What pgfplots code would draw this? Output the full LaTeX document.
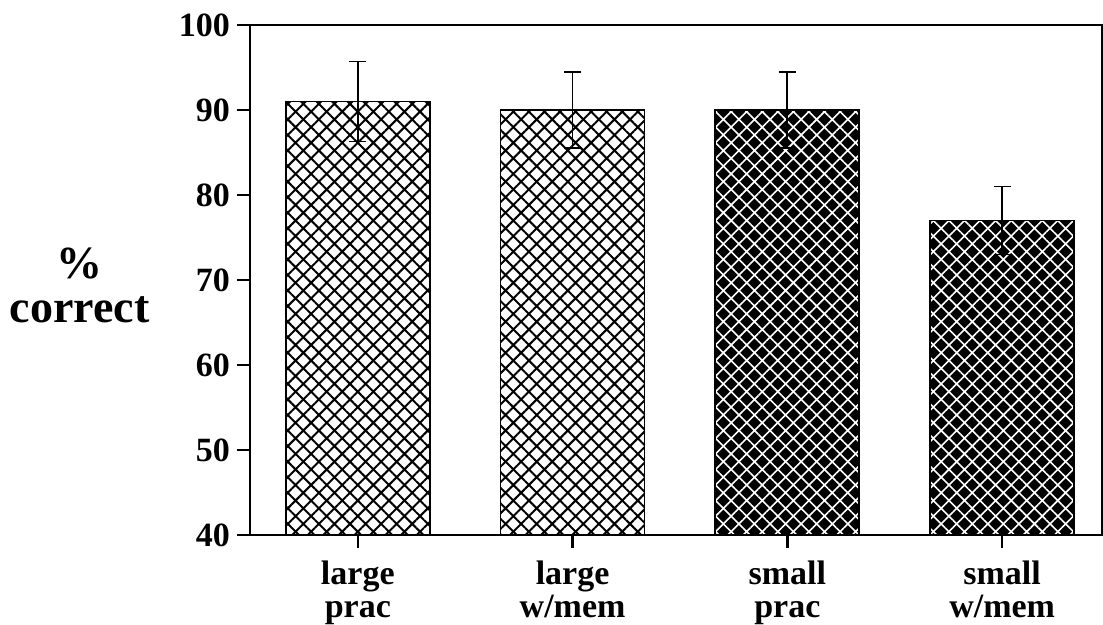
\documentclass[border=0pt]{standalone}
\usepackage{fontspec}
\setmainfont{Liberation Serif}
\usepackage{pgfplots}
\pgfplotsset{compat=1.18}
\usetikzlibrary{patterns.meta}
\begin{document}
\begin{tikzpicture}
\useasboundingbox (-125pt,-45pt) rectangle (426.5pt,267.5pt);
\begin{axis}[
  scale only axis, width=426pt, height=255pt,
  xmin=-0.502, xmax=3.465, ymin=40, ymax=100,
  ytick={40,50,60,70,80,90,100},
  xtick={0,1,2,3},
  xticklabels={{large\\prac},{large\\w/mem},{small\\prac},{small\\w/mem}},
  xtick pos=bottom, ytick pos=left,
  tick align=outside, major tick length=6.5pt,
  axis line style={line width=1.2pt},
  every tick/.style={line width=1.2pt, black},
  /pgf/number format/assume math mode=true,
  yticklabel style={font=\fontsize{17}{17}\selectfont\bfseries},
  xticklabel style={font=\fontsize{17}{16.5}\selectfont\bfseries, align=center, yshift=-3pt},
  ylabel={\%\\correct},
  ylabel style={at={(rel axis cs:-0.2,0.49)}, rotate=-90, anchor=center, align=center,
    font=\fontsize{23}{22}\selectfont\bfseries},
]
\addplot[ybar, bar width=72pt, bar shift=0pt, fill=white, draw=black, line width=0.9pt,
  postaction={pattern={Hatch[angle=45,distance=5.5pt,line width=1pt]}, pattern color=black},
  error bars/.cd, y dir=both, y explicit,
  error bar style={line width=0.9pt, black},
  error mark options={line width=0.9pt, black, mark size=4.25pt, rotate=90}]
  coordinates {(0,91) +- (0,4.7) (1,90) +- (0,4.5)};
\addplot[ybar, bar width=72pt, bar shift=0pt, fill=black, draw=black, line width=0.9pt,
  postaction={pattern={Hatch[angle=45,distance=5.5pt,line width=0.8pt]}, pattern color=white},
  error bars/.cd, y dir=both, y explicit,
  error bar style={line width=0.9pt, black},
  error mark options={line width=0.9pt, black, mark size=4.25pt, rotate=90}]
  coordinates {(2,90) +- (0,4.5) (3,77) +- (0,4)};
\end{axis}
\end{tikzpicture}
\end{document}
